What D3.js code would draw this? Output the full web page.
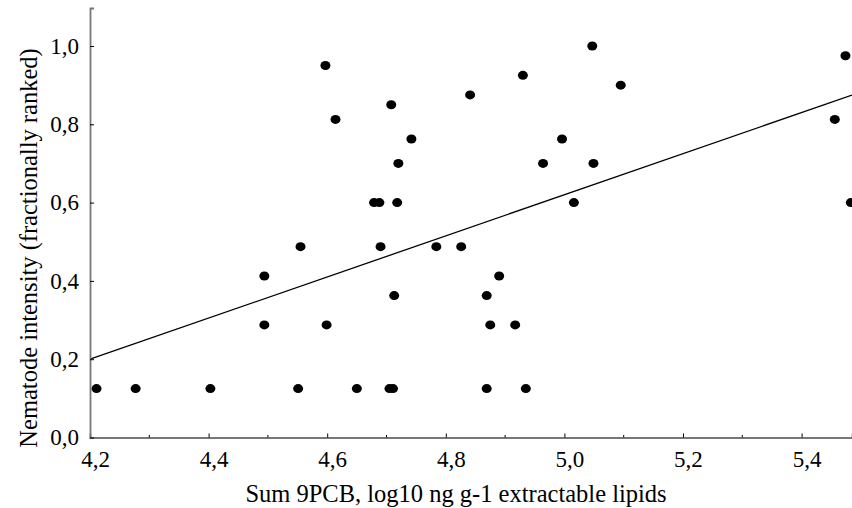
<!DOCTYPE html>
<html>
<head>
<meta charset="utf-8">
<script src="https://cdn.jsdelivr.net/npm/d3@7"></script>
<style>
  body { margin: 0; background: #fff; }
</style>
</head>
<body>
<div id="chart"></div>
<script>
// sum 9PCB (log10 ng/g lipids) vs nematode intensity (fractional rank)
var pcb = [4.211, 4.277, 4.403, 4.551, 4.650, 4.705, 4.711, 4.869, 4.935,
           4.494, 4.599, 4.875, 4.917,
           4.713, 4.869,
           4.494, 4.890,
           4.555, 4.690, 4.784, 4.826,
           4.679, 4.688, 4.718, 5.016, 5.483,
           4.720, 4.964, 5.049,
           4.742, 4.996,
           4.614, 5.456,
           4.708, 4.841, 5.095, 4.930, 4.597, 5.474, 5.047];
var rank = [0.125, 0.125, 0.125, 0.125, 0.125, 0.125, 0.125, 0.125, 0.125,
            0.2875, 0.2875, 0.2875, 0.2875,
            0.3625, 0.3625,
            0.4125, 0.4125,
            0.4875, 0.4875, 0.4875, 0.4875,
            0.6, 0.6, 0.6, 0.6, 0.6,
            0.7, 0.7, 0.7,
            0.7625, 0.7625,
            0.8125, 0.8125,
            0.85, 0.875, 0.9, 0.925, 0.95, 0.975, 1.0];
var fit = {slope: 0.525, icpt: -2.005};
var xTicks = [4.2, 4.4, 4.6, 4.8, 5.0, 5.2, 5.4];
var xMinor = [4.3, 4.5, 4.7, 4.9, 5.1, 5.3];
var yTicks = [0, 0.2, 0.4, 0.6, 0.8, 1.0];

var FONT = "'Liberation Serif', 'Times New Roman', Times, 'DejaVu Serif', serif";
var W = 852, H = 508;
var margin = {top: 8, left: 90, right: 0, bot: 70.5};

var x = d3.scaleLinear().domain([4.2, 5.485]).range([margin.left, W - margin.right]);
var y = d3.scaleLinear().domain([0, 1.097]).range([H - margin.bot, margin.top]);
var fmt = function(v) { return d3.format(".1f")(v).replace(".", ","); };

var svg = d3.select("#chart").append("svg")
    .attr("width", W)
    .attr("height", H)
    .style("font-family", FONT);

var plot = svg.append("g");
plot.append("clipPath").attr("id", "clip")
    .append("rect")
    .attr("x", margin.left).attr("y", margin.top)
    .attr("width", W - margin.left).attr("height", H - margin.bot - margin.top);

// regression line
var x0 = x.domain()[0], x1 = x.domain()[1];
plot.append("line")
    .attr("x1", x(x0)).attr("y1", y(fit.slope * x0 + fit.icpt))
    .attr("x2", x(x1)).attr("y2", y(fit.slope * x1 + fit.icpt))
    .attr("stroke", "#000")
    .attr("stroke-width", 1.3);

// points
plot.append("g").attr("clip-path", "url(#clip)")
    .selectAll("ellipse")
    .data(pcb)
    .enter().append("ellipse")
    .attr("cx", function(d) { return x(d); })
    .attr("cy", function(d, i) { return y(rank[i]); })
    .attr("rx", 5)
    .attr("ry", 4.5)
    .attr("fill", "#000");

// x axis
var gx = svg.append("g")
    .attr("transform", "translate(0," + y(0) + ")")
    .call(d3.axisBottom(x).tickValues(xTicks).tickSize(-4).tickPadding(13).tickFormat(fmt));
gx.selectAll(".tick text").attr("dx", 5).attr("font-size", 23);
gx.append("g").selectAll("line")
    .data(xMinor)
    .enter().append("line")
    .attr("x1", function(d) { return x(d); })
    .attr("x2", function(d) { return x(d); })
    .attr("y1", 0).attr("y2", -2.5)
    .attr("stroke", "#000");

// y axis
var gy = svg.append("g")
    .attr("transform", "translate(" + x(x0) + ",0)")
    .call(d3.axisLeft(y).tickValues(yTicks).tickSize(-4).tickPadding(11).tickFormat(fmt));
gy.selectAll(".tick text").attr("font-size", 23);

svg.selectAll("g").attr("font-family", null);
svg.selectAll(".domain").attr("stroke", "#777").attr("stroke-width", 1.8);
svg.selectAll(".tick line").attr("stroke", "#000");

// titles
svg.append("text")
    .attr("x", 456)
    .attr("y", 502)
    .attr("text-anchor", "middle")
    .attr("font-size", 24.5)
    .text("Sum 9PCB, log10 ng g-1 extractable lipids");

svg.append("text")
    .attr("transform", "translate(37," + 248 + ") rotate(-90)")
    .attr("text-anchor", "middle")
    .attr("font-size", 24.5)
    .text("Nematode intensity (fractionally ranked)");

svg.selectAll("text").style("font-family", FONT);
</script>
</body>
</html>
